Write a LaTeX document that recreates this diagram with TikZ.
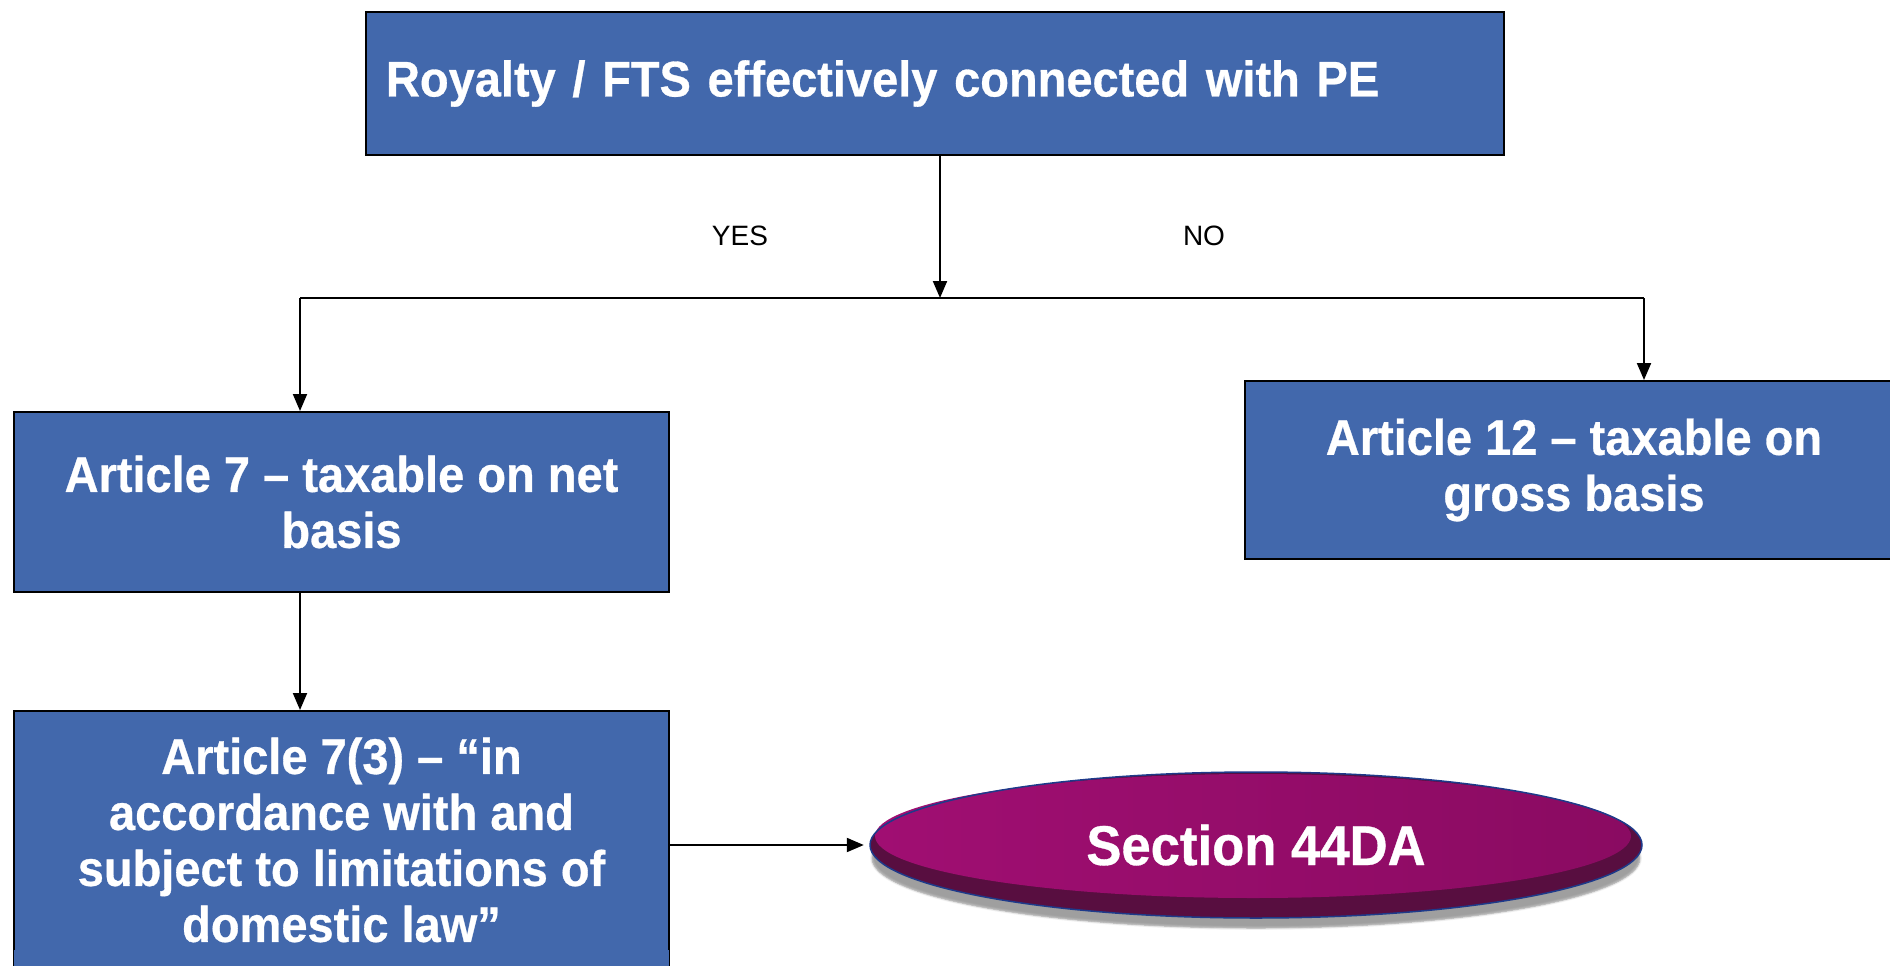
\documentclass[tikz,border=0pt]{standalone}
\usepackage{fontspec}
\setmainfont{Liberation Sans}
\newfontfamily\narrowbold[FakeStretch=0.94,FakeBold=0.6,Ligatures=TeX]{Liberation Sans Bold}
\usetikzlibrary{arrows.meta,calc,shadows.blur}
\definecolor{boxblue}{RGB}{66,104,172}
\definecolor{plum}{RGB}{150,12,106}
\definecolor{plumlight}{RGB}{160,14,114}
\definecolor{plumdark}{RGB}{88,14,64}
\definecolor{rimblue}{RGB}{30,58,138}
\tikzset{
  stepbox/.style={draw=black, line width=2pt, fill=boxblue, text=white,
    font=\narrowbold\fontsize{50}{56}\selectfont, align=center, inner sep=0pt},
  flow/.style={line width=2pt, draw=black},
  flowarrow/.style={flow, -{Triangle[length=17pt,width=14pt]}},
  answer/.style={font=\fontsize{28}{32}\selectfont, text=black}
}
\begin{document}
\begin{tikzpicture}[x=1pt,y=-1pt]
  \useasboundingbox (0,0) rectangle (1890,966);
  \clip (0,0) rectangle (1890,966);

  % decision box at the top
  \node[stepbox, anchor=north west, minimum width=1138pt, minimum height=143pt,
        text width=1098pt, align=left] (top) at (365,11)
        {Royalty / FTS effectively connected with PE};

  % outcome boxes
  \node[stepbox, anchor=north west, minimum width=655pt, minimum height=180pt]
        (art7) at (13,411) {Article 7 -- taxable on net\\basis};
  \node[stepbox, anchor=north west, minimum width=658pt, minimum height=178pt]
        (art12) at (1244,380) {Article 12 -- taxable on\\gross basis};
  \node[stepbox, anchor=north west, minimum width=655pt, minimum height=258pt]
        (art73) at (13,710)
        {Article 7(3) -- \char"201C in\\accordance with and\\subject to limitations of\\domestic law\char"201D};
  % the box runs off the bottom edge of the page
  \fill[boxblue] ([xshift=1pt]art73.south west) rectangle ([xshift=-1pt,yshift=20pt]art73.south east);
  \draw[line width=2pt] (art73.south west) -- ++(0,20);
  \draw[line width=2pt] (art73.south east) -- ++(0,20);

  % Section 44DA ellipse with bevelled rim and soft shadow
  \fill[black!35, opacity=0.5, blur shadow={shadow xshift=0pt, shadow yshift=0pt, shadow blur steps=8}]
        (1256,858) ellipse [x radius=384pt, y radius=70pt];
  \fill[plumdark] (1256,845) ellipse [x radius=386pt, y radius=73pt];
  \shade[left color=plumlight, right color=plum!92!black] (1253,836) ellipse [x radius=378pt, y radius=62pt];
  \draw[rimblue, line width=1.5pt] (1256,845) ellipse [x radius=386pt, y radius=73pt];
  \node[font=\narrowbold\fontsize{56}{62}\selectfont, text=white, inner sep=0pt,
        minimum width=772pt, minimum height=146pt] (sec) at (1256,845) {Section 44DA};

  % branch points of the YES / NO split
  \coordinate (split) at (940,298);
  \coordinate (yesend) at (300,298);
  \coordinate (noend) at (1644,298);

  \draw[flowarrow] (top.south -| split) -- (split);
  \draw[flow] (yesend) -- (noend);
  \draw[flowarrow] (yesend) -- (yesend |- art7.north);
  \draw[flowarrow] (noend) -- (noend |- art12.north);
  \draw[flowarrow] (art7.south -| yesend) -- (art73.north -| yesend);
  \draw[flowarrow] (art73.east |- sec.west) -- ($(sec.west)+(-6,0)$);

  \node[answer] (yes) at (740,236) {YES};
  \node[answer] (no) at (1204,236) {NO};
\end{tikzpicture}
\end{document}
